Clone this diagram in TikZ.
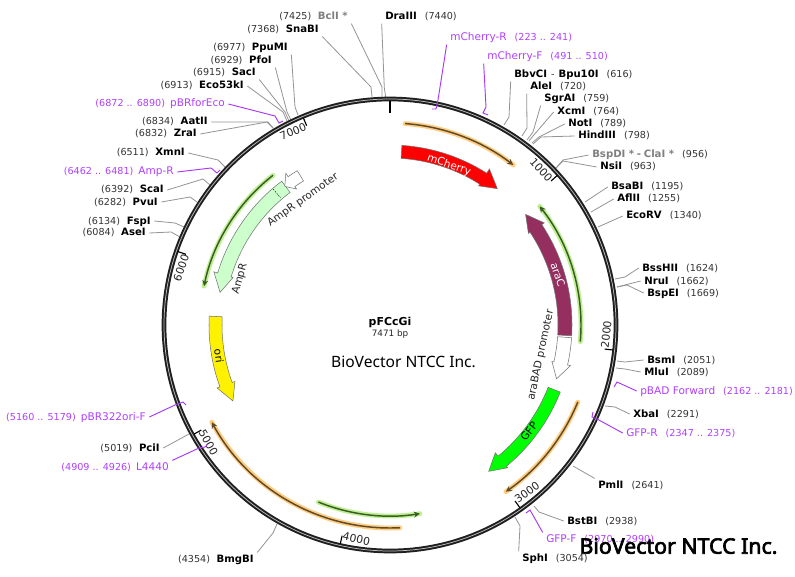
\documentclass[tikz,border=0pt]{standalone}
\usepackage{fontspec}
\setmainfont{DejaVu Sans}
\newfontfamily\logoreg{Noto Sans}
\newfontfamily\logobold[FakeBold=3]{Noto Sans}
\usetikzlibrary{arrows.meta}
\definecolor{numgray}{HTML}{333333}
\definecolor{enzgray}{HTML}{808080}
\definecolor{primer}{HTML}{B040FF}
\definecolor{primerline}{HTML}{A838F8}
\definecolor{orangehalo}{HTML}{FFCC80}
\definecolor{orangecore}{HTML}{5E4A28}
\definecolor{greenhalo}{HTML}{BFF090}
\definecolor{greencore}{HTML}{3A5A28}
\definecolor{arac}{HTML}{952F60}
\newcommand{\nb}[1]{{\fontsize{7.2}{9}\selectfont\color{numgray}#1}}
\newcommand{\nm}[1]{{\fontsize{7.6}{9}\selectfont\bfseries #1}}
\newcommand{\gm}[1]{{\fontsize{7.6}{9}\selectfont\bfseries\color{enzgray}#1}}
\newcommand{\pr}[1]{{\fontsize{7.9}{9}\selectfont\color{primer}#1}}
\newcommand{\pn}[1]{{\fontsize{7.2}{9}\selectfont\color{primer}#1}}
\newcommand{\gapL}{\hspace{5pt}}
\newcommand{\gapR}{\hspace{6pt}}
\newcommand{\gapP}{\hspace{3.8pt}}
\newcommand{\featarrow}[8]{%
  \draw[#1] ({#2-90}:#6) arc[start angle={#2-90},end angle={#3-90},radius=#6]
    -- ({#3-90}:#8) -- ({#4-90}:{(#5+#6)/2}) -- ({#3-90}:#7) -- ({#3-90}:#5)
    arc[start angle={#3-90},end angle={#2-90},radius=#5] -- cycle;}
\newcommand{\track}[5]{%
  \draw[#1halo,line width=3.6pt,line cap=round] ({#2-90}:#4) arc[start angle={#2-90},end angle={#3-90},radius=#4];
  \draw[#1core,line width=1.1pt,-{Stealth[length=4.5pt,width=4.5pt]}] ({#2-90}:#4) arc[start angle={#2-90},end angle={#3-90},radius=#4];}
\newcommand{\ticklabel}[4]{%
  \draw[black,line width=.85pt] ({#1-90}:224.5) -- ({#1-90}:216) coordinate (t#3);
  \node[ticktext,rotate=#2,anchor=#4] at (t#3) {#3};}
\tikzset{
  lab/.style={inner xsep=2.5pt,inner ysep=1pt,text height=6pt,text depth=1.5pt},
  labW/.style={lab,anchor=west,xshift=-2.5pt},
  labE/.style={lab,anchor=east,xshift=2.5pt},
  enz/.style={draw=black!42,line width=.6pt},
  prm/.style={draw=primerline,line width=.7pt},
  feat/.style={draw=black!55,line width=.4pt},
  ftext/.style={font=\fontsize{7.9}{9}\selectfont,inner sep=0pt},
  ticktext/.style={font=\fontsize{8.1}{9}\selectfont,inner sep=0.5pt,text=black!85},
}
\begin{document}
\begin{tikzpicture}[x=.75pt,y=-.75pt]
\useasboundingbox (0,0) rectangle (795,577);
\fill[white] (0,0) rectangle (795,577);

% ---- left labels
\node[labE] (bcl) at (348,17) {\nb{(7425)}\gapL\gm{BclI *}};
\node[labE] (sna) at (319,30) {\nb{(7368)}\gapL\nm{SnaBI}};
\node[labE] (ppu) at (288,48) {\nb{(6977)}\gapL\nm{PpuMI}};
\node[labE] (pfo) at (272,61) {\nb{(6929)}\gapL\nm{PfoI}};
\node[labE] (sac) at (256,73) {\nb{(6915)}\gapL\nm{SacI}};
\node[labE] (eco) at (244,86) {\nb{(6913)}\gapL\nm{Eco53kI}};
\node[labE] (pbrf) at (225,104) {\pn{(6872 .. 6890)}\gapP\pr{pBRforEco}};
\node[labE] (aat) at (208,122) {\nb{(6834)}\gapL\nm{AatII}};
\node[labE] (zra) at (197,134) {\nb{(6832)}\gapL\nm{ZraI}};
\node[labE] (xmn) at (185,153) {\nb{(6511)}\gapL\nm{XmnI}};
\node[labE] (ampr) at (174,172) {\pn{(6462 .. 6481)}\gapP\pr{Amp-R}};
\node[labE] (sca) at (164,190) {\nb{(6392)}\gapL\nm{ScaI}};
\node[labE] (pvu) at (158,202) {\nb{(6282)}\gapL\nm{PvuI}};
\node[labE] (fsp) at (151,221) {\nb{(6134)}\gapL\nm{FspI}};
\node[labE] (ase) at (146,233) {\nb{(6084)}\gapL\nm{AseI}};
\node[labE] (pbr) at (146,417) {\pn{(5160 .. 5179)}\gapP\pr{pBR322ori-F}};
\node[labE] (pci) at (160,448) {\nb{(5019)}\gapL\nm{PciI}};
\node[labE] (l44) at (169,467) {\pn{(4909 .. 4926)}\gapP\pr{L4440}};
\node[labE] (bmg) at (254,559) {\nb{(4354)}\gapL\nm{BmgBI}};

% ---- right labels
\node[labW] (dra) at (385,17) {\nm{DraIII}\gapR\nb{(7440)}};
\node[labW] (mcr) at (450,38) {\pr{mCherry-R}\gapR\pn{(223 .. 241)}};
\node[labW] (mcf) at (487,57) {\pr{mCherry-F}\gapR\pn{(491 .. 510)}};
\node[labW] (bbv) at (514,75) {\nm{BbvCI}\hspace{3pt}\nb{-}\hspace{3pt}\nm{Bpu10I}\gapR\nb{(616)}};
\node[labW] (ale) at (530,87) {\nm{AleI}\gapR\nb{(720)}};
\node[labW] (sgr) at (544,99) {\nm{SgrAI}\gapR\nb{(759)}};
\node[labW] (xcm) at (557,112) {\nm{XcmI}\gapR\nb{(764)}};
\node[labW] (not) at (568,124) {\nm{NotI}\gapR\nb{(789)}};
\node[labW] (hin) at (578,136) {\nm{HindIII}\gapR\nb{(798)}};
\node[labW] (bsp) at (592,155) {\gm{BspDI *}\hspace{2pt}\gm{-}\hspace{2pt}\gm{ClaI *}\gapR\nb{(956)}};
\node[labW] (nsi) at (600,167) {\nm{NsiI}\gapR\nb{(963)}};
\node[labW] (bsa) at (611,187) {\nm{BsaBI}\gapR\nb{(1195)}};
\node[labW] (afl) at (617,199) {\nm{AflII}\gapR\nb{(1255)}};
\node[labW] (ecr) at (626,216) {\nm{EcoRV}\gapR\nb{(1340)}};
\node[labW] (bss) at (642,268) {\nm{BssHII}\gapR\nb{(1624)}};
\node[labW] (nru) at (644,281) {\nm{NruI}\gapR\nb{(1662)}};
\node[labW] (bse) at (647,293) {\nm{BspEI}\gapR\nb{(1669)}};
\node[labW] (bsm) at (647,360) {\nm{BsmI}\gapR\nb{(2051)}};
\node[labW] (mlu) at (644,372) {\nm{MluI}\gapR\nb{(2089)}};
\node[labW] (pbad) at (640,391) {\pr{pBAD Forward}\gapR\pn{(2162 .. 2181)}};
\node[labW] (xba) at (633,414) {\nm{XbaI}\gapR\nb{(2291)}};
\node[labW] (gfr) at (626,433) {\pr{GFP-R}\gapR\pn{(2347 .. 2375)}};
\node[labW] (pml) at (598,485) {\nm{PmlI}\gapR\nb{(2641)}};
\node[labW] (bst) at (567,521) {\nm{BstBI}\gapR\nb{(2938)}};
\node[labW] (gff) at (546,539) {\pr{GFP-F}\gapR\pn{(2970 .. 2990)}};
\node[labW] (sph) at (522,558) {\nm{SphI}\gapR\nb{(3054)}};

% ---- ring end points
\coordinate (rBcl) at (382,97);
\coordinate (rSna) at (372,97);
\coordinate (rDra) at (385.7,97);
\coordinate (rPpu) at (298,115);
\coordinate (rPfo) at (291,120);
\coordinate (rSac) at (289,121);
\coordinate (rEco) at (287,121);
\coordinate (rAat) at (273,128);
\coordinate (rXmn) at (226,168);
\coordinate (rSca) at (210,185);
\coordinate (rPvu) at (197,202);
\coordinate (rFsp) at (184,227);
\coordinate (rAse) at (180,237);
\coordinate (rPci) at (189,434);
\coordinate (rBmg) at (277,524);
\coordinate (rBbv) at (504,125);
\coordinate (rAle) at (522,136);
\coordinate (rSgr) at (527,140);
\coordinate (rXcm) at (529,141);
\coordinate (rNot) at (532,143);
\coordinate (rHin) at (533,144);
\coordinate (rBsp) at (556,168);
\coordinate (rBsa) at (585,202);
\coordinate (rAfl) at (591,212);
\coordinate (rEcr) at (598,227);
\coordinate (rBss) at (615,279);
\coordinate (rNru) at (617,287);
\coordinate (rBsm) at (617,361);
\coordinate (rMlu) at (616,368);
\coordinate (rXba) at (605,406);
\coordinate (rPml) at (573,466);
\coordinate (rBst) at (534,506);
\coordinate (rSph) at (515,517);

% ---- enzyme connectors
\draw[enz] (bcl.south east) -- (382,87) -- (rBcl);
\draw[enz] (sna.south east) -- (371,87) -- (rSna);
\draw[enz] (dra.south west) -- (384.3,88) -- (rDra);
\draw[enz] (ppu.south east) -- (295,107) -- (rPpu);
\draw[enz] (pfo.south east) -- (287,112) -- (rPfo);
\draw[enz] (sac.south east) -- (285,112) -- (rSac);
\draw[enz] (eco.east) -- (283,112) -- (rEco);
\draw[enz] (aat.east) -- (268,122) -- (rAat);
\draw[enz] (zra.east) -- (267,122) -- (rAat);
\draw[enz] (xmn.east) -- (218,160) -- (rXmn);
\draw[enz] (sca.east) -- (203,179) -- (rSca);
\draw[enz] (pvu.east) -- (190,197) -- (rPvu);
\draw[enz] (fsp.east) -- (175,223) -- (rFsp);
\draw[enz] (ase.east) -- (171,232) -- (rAse);
\draw[enz] (pci.east) -- (rPci);
\draw[enz] (bmg.north east) -- (273,533) -- (rBmg);
\draw[enz] (bbv.south west) -- (509,117) -- (rBbv);
\draw[enz] (ale.south west) -- (527,128) -- (rAle);
\draw[enz] (sgr.south west) -- (533,132) -- (rSgr);
\draw[enz] (xcm.west) -- (533,136) -- (rXcm);
\draw[enz] (not.west) -- (539,137) -- (rNot);
\draw[enz] (hin.west) -- (541,137) -- (rHin);
\draw[enz] (bsp.west) -- (563,160) -- (rBsp);
\draw[enz] (nsi.west) -- (563,161) -- (rBsp);
\draw[enz] (bsa.west) -- (rBsa);
\draw[enz] (afl.west) -- (rAfl);
\draw[enz] (ecr.west) -- (rEcr);
\draw[enz] (bss.west) -- (625,277) -- (rBss);
\draw[enz] (nru.west) -- (rNru);
\draw[enz] (bse.west) -- (627,285) -- (rNru);
\draw[enz] (bsm.west) -- (625,362) -- (rBsm);
\draw[enz] (mlu.west) -- (625,369) -- (rMlu);
\draw[enz] (xba.west) -- (615,407) -- (rXba);
\draw[enz] (pml.north west) -- (rPml);
\draw[enz] (bst.west) -- (539,512) -- (rBst);
\draw[enz] (sph.north west) -- (520,526) -- (rSph);

\begin{scope}[shift={(390,325)}]
% ---- backbone
\draw[black!88,line width=3.5pt] (0,0) circle[radius=226];
\draw[white!75!black,line width=.55pt] (0,0) circle[radius=226];
\draw[black,line width=1.3pt] ({-90}:224) -- ({-90}:212);
\ticklabel{48.2}{-48.2}{1000}{east}
\ticklabel{96.4}{83.6}{2000}{west}
\ticklabel{144.6}{35.4}{3000}{west}
\ticklabel{192.8}{-12.8}{4000}{west}
\ticklabel{240.9}{-60.9}{5000}{west}
\ticklabel{289.1}{70.9}{6000}{east}
\ticklabel{337.3}{22.7}{7000}{east}
\end{scope}

% ---- primer connectors with hooks
\coordinate (hPbrf) at (283,121);
\coordinate (hAmpr) at (220,170);
\coordinate (hPbr) at (186,405);
\coordinate (hL44) at (207,445);
\coordinate (hMcr) at (432,109);
\coordinate (hMcf) at (488,115);
\coordinate (hPbad) at (614,387);
\coordinate (hGfr) at (593,412);
\coordinate (hGff) at (526,513);
\draw[prm] (pbrf.east) -- (275,116) -- (279,123) -- (hPbrf);
\draw[prm] (ampr.east) -- (211,168) -- (217,173) -- (hAmpr);
\draw[prm] (pbr.east) -- (175,405) -- (183,402) -- (hPbr);
\draw[prm] (l44.north east) -- (199,448) -- (205,447) -- (hL44);
\draw[prm] (mcr.south west) -- (438,100) -- (436,109) -- (hMcr);
\draw[prm] (mcf.south west) -- (486,107) -- (483,113) -- (hMcf);
\draw[prm] (pbad.west) -- (617,382) -- (hPbad);
\draw[prm] (gfr.west) -- (597,419) -- (592,417) -- (hGfr);
\draw[prm] (gff.north west) -- (530,510) -- (hGff);

\begin{scope}[shift={(390,325)}]
% ---- feature tracks
\track{orange}{4.3}{37.6}{202}{}
\track{green}{95}{51.6}{191}{}
\track{orange}{112.3}{145.2}{203}{}
\track{orange}{177.2}{241.4}{203}{}
\track{green}{202}{171}{191}{}
\track{green}{322}{281.8}{190}{}
% ---- feature arrows
\featarrow{feat,fill=red}{3.8}{32.5}{38.2}{167}{180}{165}{185}
\featarrow{feat,fill=arac}{93.4}{56.5}{50.8}{168}{182}{166}{185}
\featarrow{feat,fill=white}{94}{102.7}{107.9}{168}{182}{166}{185}
\featarrow{feat,fill=green}{111.5}{140.5}{146}{170}{183}{165.6}{185}
\featarrow{feat,fill=yellow}{272.8}{250}{244.2}{168}{181}{165}{184}
\featarrow{feat,fill=green!20}{323}{286.8}{280.9}{166}{180}{164}{184}
\featarrow{feat,fill=white}{329}{325.5}{322.8}{168}{180}{165}{184}
\draw[black,line width=.4pt,dash pattern=on 1pt off 1pt] ({319.3-90}:179) -- ({319.3-90}:168);
\end{scope}

% ---- feature names
\node[ftext,text=white,rotate=-19] (fmc) at (449,165) {mCherry};
\node[ftext,text=white,rotate=-71] (fac) at (558,275) {araC};
\node[ftext,text=black,rotate=52] (fgf) at (529,431) {GFP};
\node[ftext,text=black,rotate=-82] (fori) at (219,356) {ori};
\node[ftext,text=black!85,rotate=74] (fam) at (240,279) {AmpR};
\node[ftext,text=black!85,rotate=35] (fpr) at (303,200) {AmpR promoter};
\node[ftext,text=black!85,rotate=78] (fbad) at (541,355) {araBAD promoter};

% ---- centre
\node[inner sep=0pt,font=\fontsize{8.2}{9}\selectfont\bfseries] (title) at (390,322) {pFCcGi};
\node[inner sep=0pt,font=\fontsize{6.6}{8}\selectfont,text=black!85] (size) at (390,334) {7471 bp};
\node[inner sep=0pt,font=\logoreg\fontsize{11.7}{13}\selectfont] (logoa) at (403.5,362) {BioVector NTCC Inc.};
\node[inner sep=0pt,font=\logobold\fontsize{16}{18}\selectfont] (logob) at (678.5,546) {BioVector NTCC Inc.};
\end{tikzpicture}
\end{document}
